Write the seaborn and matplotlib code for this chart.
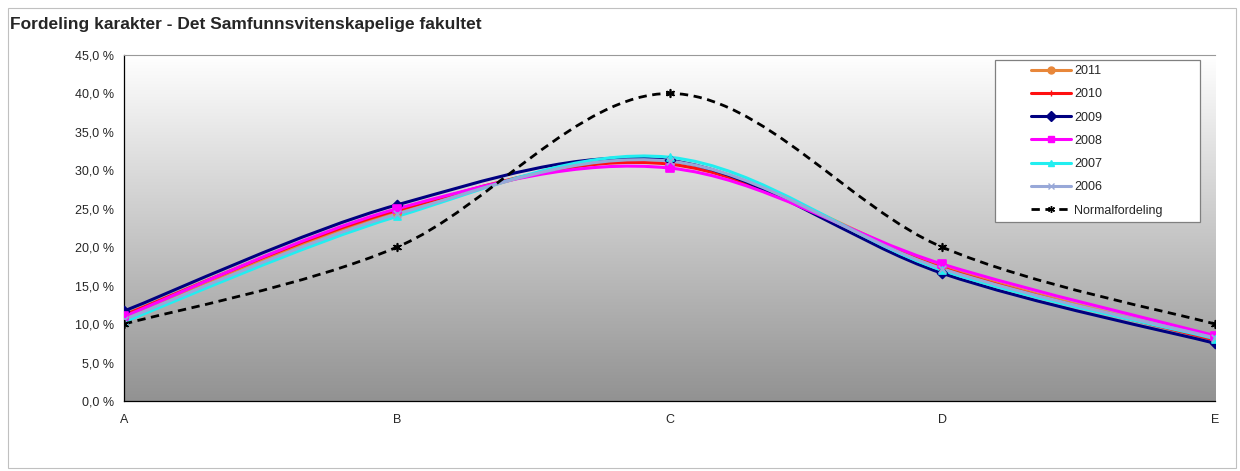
import numpy as np
import matplotlib
matplotlib.use('Agg')
import matplotlib.pyplot as plt
import seaborn as sns
from matplotlib.path import Path
from matplotlib.patches import PathPatch, Rectangle
from matplotlib.lines import Line2D
from matplotlib.ticker import FuncFormatter

grades = ['A', 'B', 'C', 'D', 'E']
y2011 = [11.0, 24.5, 31.0, 17.5, 8.0]
y2010 = [11.2, 24.8, 30.8, 17.3, 7.9]
y2009 = [11.7, 25.5, 31.3, 16.6, 7.5]
y2008 = [11.0, 25.0, 30.3, 17.8, 8.5]
y2007 = [10.3, 24.0, 31.7, 17.0, 8.1]
y2006 = [10.6, 24.3, 31.2, 17.2, 8.2]
normal = [10.0, 20.0, 40.0, 20.0, 10.0]

series = [
    ('2011', y2011, '#E8873A', 'o', '-'),
    ('2010', y2010, '#FF1010', '+', '-'),
    ('2009', y2009, '#000080', 'D', '-'),
    ('2008', y2008, '#FF00FF', 's', '-'),
    ('2007', y2007, '#22EEF0', '^', '-'),
    ('2006', y2006, '#98A8D8', 'x', '-'),
    ('Normalfordeling', normal, '#000000', (6, 2, 0), '--'),
]


def smooth_path(xs, ys):
    # excel-like smoothed line: cubic bezier through the points
    pts = np.column_stack([xs, ys]).astype(float)
    n = len(pts)
    verts = [pts[0]]
    codes = [Path.MOVETO]
    for i in range(n - 1):
        p0 = pts[max(i - 1, 0)]
        p1 = pts[i]
        p2 = pts[i + 1]
        p3 = pts[min(i + 2, n - 1)]
        c1 = p1 + (p2 - p0) / 6.0
        c2 = p2 - (p3 - p1) / 6.0
        verts += [c1, c2, p2]
        codes += [Path.CURVE4] * 3
    return Path(verts, codes)


sns.set_style('white')
plt.rcParams['font.family'] = ['Liberation Sans', 'DejaVu Sans']

fig = plt.figure(figsize=(12.4, 4.71), dpi=100)
ax = fig.add_axes([0.1, 0.1486, 0.88, 0.7346])

# gradient background
grad = np.linspace(1, 0, 256).reshape(-1, 1)
cmap = matplotlib.colors.LinearSegmentedColormap.from_list('bg', ['#929292', '#ffffff'])
ax.imshow(grad, extent=[0, 4, 0, 45], aspect='auto', cmap=cmap, vmin=0, vmax=1,
          origin='upper', zorder=0)

x = np.arange(len(grades))
handles = []
for name, vals, color, marker, ls in series:
    lw = 2.0 if ls == '--' else 2.2
    dash = (0, (3, 2)) if ls == '--' else '-'
    patch = PathPatch(smooth_path(x, vals), facecolor='none', edgecolor=color,
                      lw=lw, linestyle=dash, zorder=3, capstyle='butt')
    ax.add_patch(patch)
    ms = 26 if marker in ('s', 'D', '^') else 30
    sns.scatterplot(x=x, y=vals, ax=ax, marker=marker, s=ms, color=color,
                    edgecolor=color, linewidth=1.2, zorder=4, legend=False)
    handles.append(Line2D([0], [0], color=color, lw=lw, linestyle=dash,
                          marker=marker, markersize=5, markerfacecolor=color,
                          markeredgecolor=color, label=name))

ax.set_xlim(0, 4)
ax.set_ylim(0, 45)
ax.set_xticks(x)
ax.set_xticklabels(grades)
ax.set_yticks(np.arange(0, 46, 5))
ax.yaxis.set_major_formatter(FuncFormatter(lambda v, p: f'{v:.1f} %'.replace('.', ',')))
ax.tick_params(axis='both', labelsize=9, length=4, width=0.8, color='#000000')
ax.tick_params(axis='x', direction='in', pad=9)
ax.tick_params(axis='y', direction='inout', pad=5)
ax.set_xlabel('')
ax.set_ylabel('')
for s in ['left', 'bottom']:
    ax.spines[s].set_color('#000000')
    ax.spines[s].set_linewidth(0.9)
ax.spines['top'].set_color('#999999')
ax.spines['top'].set_linewidth(0.8)
ax.spines['right'].set_visible(False)

# legend box drawn separately, entries placed inside it
box_x0, box_x1 = (995 - 124) / 1091, (1200 - 124) / 1091
box_y0, box_y1 = (401 - 222) / 346, (401 - 60) / 346
ax.add_patch(Rectangle((box_x0, box_y0), box_x1 - box_x0, box_y1 - box_y0,
                       transform=ax.transAxes, facecolor='white', edgecolor='#808080',
                       lw=0.9, zorder=9))
leg = ax.legend(handles=handles, loc='upper left',
                bbox_to_anchor=((1031 - 124) / 1091, (401 - 65) / 346),
                fontsize=9, frameon=False, handlelength=3.2, labelspacing=0.9,
                borderpad=0, handletextpad=0.25, borderaxespad=0)
leg.set_zorder(10)

fig.text(10 / 1240, 1 - 25 / 471, 'Fordeling karakter - Det Samfunnsvitenskapelige fakultet',
         fontsize=12.5, fontweight='bold', va='center', ha='left')
fig.patches.append(Rectangle((8 / 1240, 3 / 471), 1228 / 1240, 460 / 471,
                             transform=fig.transFigure, fill=False,
                             edgecolor='#c0c0c0', lw=0.8))

fig.savefig('out.png', dpi=100)
